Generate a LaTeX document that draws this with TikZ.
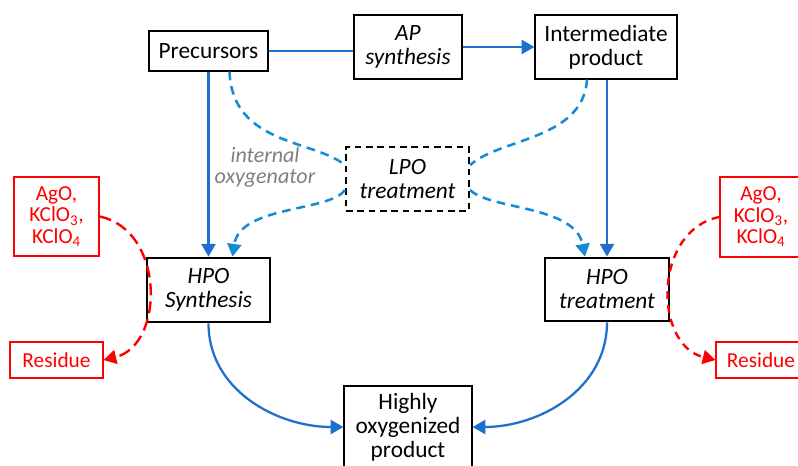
\documentclass[tikz,border=0pt]{standalone}
\usepackage{fontspec}
\setmainfont{Carlito}
\usetikzlibrary{arrows.meta}
\definecolor{solblue}{HTML}{1F6FCF}
\definecolor{dashblue}{HTML}{158BD3}
\definecolor{myred}{HTML}{FF0000}
\definecolor{mygray}{HTML}{808080}
\tikzset{
  box/.style={draw=black, line width=0.9pt, align=center, inner sep=0pt, font=\fontsize{17.5pt}{18pt}\selectfont},
  thickbox/.style={box, line width=2.1pt, font=\fontsize{17.5pt}{18pt}\selectfont\itshape},
  dashbox/.style={thickbox, line width=1.8pt, dash pattern=on 5pt off 3.5pt},
  redbox/.style={draw=myred, text=myred, line width=0.9pt, align=center, inner sep=0pt, font=\fontsize{16pt}{16pt}\selectfont},
  solidarrow/.style={draw=solblue, line width=1.7pt, -{Triangle[length=9.5pt,width=10.5pt]}},
  solidline/.style={draw=solblue, line width=1.7pt},
  dasharrow/.style={draw=dashblue, line width=1.9pt, dash pattern=on 6.5pt off 4.5pt, -{Triangle[length=9.5pt,width=10.5pt]}},
  dashline/.style={draw=dashblue, line width=1.9pt, dash pattern=on 6.5pt off 4.5pt},
  redarrowL/.style={draw=myred, line width=1.8pt, dash pattern=on 9pt off 4.5pt, -{Triangle[length=9.5pt,width=10.5pt]}},
  redarrowR/.style={draw=myred, line width=1.8pt, dash pattern=on 6pt off 4.5pt, -{Triangle[length=9.5pt,width=10.5pt]}},
}
\begin{document}
\begin{tikzpicture}[x=0.75pt,y=-0.75pt]
\useasboundingbox (0,0) rectangle (798,466);
\clip (0,0) rectangle (798,466);
\fill[white] (0,0) rectangle (798,466);

% nodes
\node[box, minimum width=89.25pt, minimum height=30pt] (pre) at (208.5,51) {Precursors};
\node[thickbox, minimum width=81pt, minimum height=48pt] (ap) at (408,47) {AP\\synthesis};
\node[box, minimum width=106.5pt, minimum height=48pt] (inter) at (606,47) {Intermediate\\product};
\node[dashbox, minimum width=92.25pt, minimum height=48pt] (lpo) at (407.5,179) {LPO\\treatment};
\node[thickbox, minimum width=92.25pt, minimum height=48pt] (hs) at (208.5,290) {HPO\\Synthesis};
\node[thickbox, minimum width=93pt, minimum height=47.25pt] (ht) at (607,289.5) {HPO\\treatment};
\node[box, minimum width=96pt, minimum height=61.5pt] (hi) at (408,427) {Highly\\oxygenized\\product};
\node[redbox, minimum width=63.75pt, minimum height=59.25pt] (agoL) at (56.5,216.5) {AgO,\\KClO\textsubscript{3},\\KClO\textsubscript{4}};
\node[redbox, minimum width=69.75pt, minimum height=27pt] (resL) at (56.5,360) {Residue};
\node[redbox, minimum width=61.5pt, minimum height=60pt] (agoR) at (761,217) {AgO,\\KClO\textsubscript{3},\\KClO\textsubscript{4}};
\node[redbox, minimum width=67.5pt, minimum height=27pt] (resR) at (761,360) {Residue};
\node[text=mygray, align=center, inner sep=0pt, font=\fontsize{16.5pt}{16pt}\selectfont\itshape] (io) at (265,167.5) {internal\\oxygenator};

% top connectors
\draw[solidline] (pre.east) -- (pre.east -| ap.west);
\draw[solidarrow] (ap.east) -- (inter.west);
\draw[solidarrow] (pre.south) -- (hs.north);
\draw[solidarrow] (inter.south -| ht.north) -- (ht.north);

% dashed blue via LPO
\draw[dashline] ([xshift=15.75pt]pre.south) .. controls (232,145) and (315,140) .. ([yshift=10.5pt]lpo.west);
\draw[dasharrow] ([yshift=-8.25pt]lpo.west) .. controls (330,212) and (240,205) .. ([xshift=18pt]hs.north);
\draw[dashline] ([xshift=-14.25pt]inter.south) .. controls (583,140) and (500,138) .. ([yshift=10.5pt]lpo.east);
\draw[dasharrow] ([yshift=-8.25pt]lpo.east) .. controls (490,210) and (575,205) .. ([xshift=-16.5pt]ht.north);

% to final product
\draw[solidarrow] (hs.south) to[out=-90,in=180] (hi.west);
\draw[solidarrow] (ht.south) to[out=-90,in=0] (hi.east);

% red dashed
\draw[redarrowL] (agoL.east) .. controls (165,230) and (165,345) .. (resL.east);
\draw[redarrowR] (agoR.west) .. controls (653,230) and (653,345) .. (resR.west);
\end{tikzpicture}
\end{document}
